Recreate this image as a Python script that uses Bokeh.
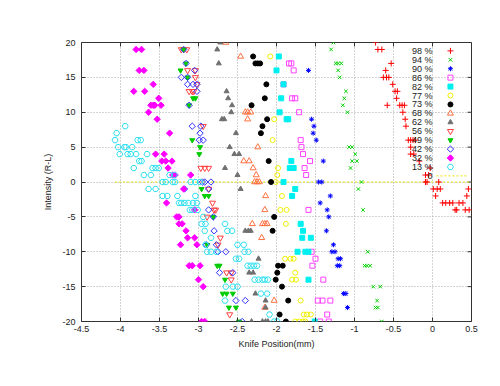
import math
from bokeh.plotting import figure
from bokeh.models import FixedTicker, Range1d, PrintfTickFormatter
from bokeh.embed import file_html
from bokeh.resources import INLINE
from bokeh.core.properties import value

# ---------------- data ----------------
x_ticks = [-4.5, -4.0, -3.5, -3.0, -2.5, -2.0, -1.5, -1.0, -0.5, 0.0, 0.5]
y_ticks = [-20, -15, -10, -5, 0, 5, 10, 15, 20]

s98_y = [20, 19, 19, 17, 16, 15, 15, 15, 14, 13, 13, 12, 11, 11, 11, 11, 10, 9, 8, 6, 6, 6, 6, 5, 4, 4, 3, 2, 1, 1,
         0, 0, 0, -1, -1, -1, -1, -2, -2, -3, -3, -3, -3, -3, -3, -4, -4, -4, -4]
s98_x = [-0.73, -0.70, -0.65, -0.53, -0.60, -0.63, -0.59, -0.56, -0.51, -0.48, -0.45, -0.46, -0.58, -0.42, -0.39,
         -0.36, -0.38, -0.35, -0.34, -0.31, -0.28, -0.25, -0.22, -0.28, -0.28, -0.24, -0.17, -0.03, -0.09, -0.05,
         -0.09, -0.07, 0.08, 0.01, 0.06, 0.10, 0.46, 0.04, 0.44, 0.13, 0.17, 0.22, 0.26, 0.34, 0.39, 0.29, 0.31,
         0.42, 0.47]

s94_y = [20, 19, 17, 17, 17, 16, 15, 13, 12, 11, 10, 5, 5, 4, 3, 3, 2, 0, -1, -4, -10, -12, -12, -12, -15, -15,
         -17, -18, -18, -20]
s94_x = [-1.27, -1.30, -1.24, -1.21, -1.17, -1.21, -1.19, -1.11, -1.13, -1.15, -1.09, -1.07, -1.03, -0.99, -1.03,
         -0.97, -1.05, -0.91, -0.95, -0.89, -0.83, -0.87, -0.84, -0.80, -0.76, -0.67, -0.71, -0.73, -0.70, -0.65]

s90_y = [16, 9, 8, 7, 6, 3, 0, 0, -2, -3, -4, -5, -7, -9, -10, -10, -11, -11, -12, -12, -16, -16, -18]
s90_x = [-1.59, -1.55, -1.52, -1.53, -1.49, -1.40, -1.46, -1.42, -1.31, -1.44, -1.35, -1.33, -1.36, -1.27, -1.29,
         -1.25, -1.21, -1.18, -1.22, -1.19, -1.14, -1.11, -1.09]

s86_y = [17, 17, 16, 14, 12, 12, 10, 6, 5, 4, 3, 2, 1, -4, -10, -11, -12, -14, -17, -17, -17, -19, -20, -20]
s86_x = [-1.84, -1.81, -1.78, -1.91, -1.80, -1.76, -1.71, -1.69, -1.68, -1.66, -1.57, -1.64, -1.62, -1.59, -1.55,
         -1.50, -1.54, -1.40, -1.47, -1.41, -1.31, -1.35, -1.44, -1.33]

s82_y = [18, 16, 14, 12, 10, 9, 9, 3, 2, 2, 0, -1, -2, -6, -7, -8, -8, -10, -10, -10, -14, -20]
s82_x = [-1.97, -2.00, -1.91, -1.94, -1.96, -1.87, -1.85, -1.81, -1.83, -1.78, -1.91, -1.76, -1.80, -1.69, -1.66,
         -1.67, -1.56, -1.73, -1.63, -1.59, -1.59, -1.51]

s77_y = [18, 9, 6, 2, 1, 0, -2, -4, -4, -6, -11, -11, -11, -13, -14, -14, -17, -19, -19, -19, -20, -20, -20, -20]
s77_x = [-2.08, -2.03, -2.05, -1.98, -1.99, -2.01, -1.93, -1.95, -1.87, -1.88, -1.89, -1.82, -1.78, -1.76, -1.80,
         -1.75, -1.69, -1.65, -1.61, -1.56, -1.76, -1.71, -1.66, -1.63]

s73_y = [18, 17, 17, 17, 14, 12, 11, 9, 8, 7, 3, 0, -5, -7, -12, -12, -13, -14, -15, -17, -19, -20]
s73_x = [-2.30, -2.27, -2.24, -2.21, -2.13, -2.15, -2.32, -2.12, -2.18, -2.20, -2.10, -2.07, -2.03, -2.05, -1.98,
         -1.92, -1.99, -2.01, -1.93, -1.85, -1.96, -1.88]

s68_y = [20, 18, 10, 10, 10, 9, 5, 3, 3, 2, 1, 0, 0, 0, -2, -4, -6, -6, -6, -6, -8, -17, -18]
s68_x = [-2.65, -2.46, -2.40, -2.37, -2.33, -2.37, -2.24, -2.42, -2.35, -2.30, -2.26, -2.28, -2.25, -2.22, -2.14,
         -2.15, -2.31, -2.18, -2.15, -2.12, -2.19, -2.03, -2.15]

s62_y = [20, 19, 17, 13, 12, 11, 10, 9, 9, 7, 5, 4, 4, 2, 1, -1, -7, -7, -7, -11, -13, -13, -16, -17, -18, -20,
         -20, -20, -20]
s62_x = [-2.72, -2.76, -2.74, -2.64, -2.62, -2.57, -2.58, -2.70, -2.67, -2.52, -2.60, -2.54, -2.48, -2.66, -2.50,
         -2.46, -2.40, -2.36, -2.33, -2.23, -2.35, -2.30, -2.27, -2.14, -2.14, -2.32, -2.18, -2.14, -2.11]

s56_y = [19, 19, 19, 16, 16, 15, 14, 13, 13, 13, 8, 2, 2, 2, -1, -3, -4, -4, -5, -8, -9, -13, -13, -14, -19]
s56_x = [-3.22, -3.19, -3.15, -3.14, -3.04, -3.04, -3.02, -3.12, -3.08, -3.06, -2.94, -2.97, -2.92, -2.87, -2.87,
         -2.82, -2.80, -2.78, -2.89, -2.72, -2.75, -2.64, -2.58, -2.58, -2.60]

s49_y = [19, 17, 16, 15, 12, 12, 11, 6, 5, 4, -1, -2, -2, -5, -9, -12, -12, -14, -16, -16, -16, -18, -18, -20]
s49_x = [-3.19, -3.16, -3.23, -3.14, -3.07, -3.04, -3.12, -3.08, -2.98, -2.99, -2.96, -2.92, -2.87, -2.81, -2.89,
         -2.76, -2.73, -2.66, -2.69, -2.64, -2.56, -2.61, -2.52, -2.48]

s42_y = [19, 17, 16, 15, 15, 14, 14, 14, 13, 11, 8, 8, 7, 6, 6, 0, 0, 0, -1, -1, -4, -5, -7, -9, -9, -10, -10,
         -13, -13, -17, -17, -20]
s42_x = [-3.19, -3.16, -3.05, -3.22, -3.14, -3.14, -3.07, -3.02, -3.02, -3.12, -3.08, -2.97, -2.98, -2.99, -2.94,
         -2.95, -2.92, -2.84, -3.18, -2.87, -2.87, -2.81, -2.80, -2.90, -2.77, -2.75, -2.65, -2.73, -2.56, -2.52,
         -2.40, -2.44]

s32_y = [19, 19, 16, 16, 14, 13, 13, 12, 11, 11, 11, 11, 10, 9, 7, 4, 4, 3, 3, 3, 2, 1, 1, 1, -1, -3, -4, -5, -5,
         -6, -6, -7, -8, -8, -9, -9, -12, -12, -12, -14, -15, -20, -20]
s32_x = [-3.80, -3.73, -3.76, -3.70, -3.58, -3.83, -3.69, -3.51, -3.61, -3.58, -3.56, -3.48, -3.64, -3.53, -3.37,
         -3.55, -3.44, -3.47, -3.42, -3.34, -3.39, -3.33, -3.30, -3.10, -3.19, -3.41, -3.05, -3.28, -3.25, -3.25,
         -3.21, -3.16, -3.14, -3.05, -3.23, -3.02, -3.12, -3.08, -2.98, -3.00, -2.94, -2.96, -2.92]

s13_y = [8, 7, 6, 6, 6, 5, 5, 5, 5, 4, 4, 4, 4, 4, 3, 3, 2, 2, 2, 2, 1, 1, 1, 1,
         0, 0, 0, 0, 0, 0, 0, -1, -1, -2, -2, -2, -2, -3, -3, -3, -3, -3, -3, -4, -4, -4, -5,
         -6, -6, -6, -7, -7, -7, -8, -9, -9, -9, -10, -10, -10, -10, -10, -11, -11,
         -12, -12, -12, -12, -14, -14, -14, -14, -14, -15, -15, -15, -16, -16, -17, -19, -20, -20]
s13_x = [-3.94, -4.05, -4.07, -3.78, -3.74, -4.03, -3.95, -3.93, -3.85, -4.01, -3.91, -3.87, -3.80, -3.66,
         -3.76, -3.73, -3.83, -3.59, -3.55, -3.51, -3.70, -3.61, -3.37, -3.31,
         -3.46, -3.42, -3.33, -3.30, -3.10, -3.04, -2.98, -3.64, -3.55, -3.46, -3.40, -3.27, -3.04,
         -3.25, -3.22, -3.18, -3.13, -3.07, -3.02, -3.11, -3.08, -3.01, -2.94,
         -2.96, -2.91, -2.66, -2.92, -2.63, -2.57, -2.84, -2.91, -2.50, -2.42, -2.89, -2.84, -2.77, -2.41, -2.36,
         -2.52, -2.48, -2.37, -2.33, -2.29, -2.25, -2.28, -2.23, -2.18, -2.15, -2.11, -2.65, -2.56, -2.50,
         -2.20, -2.12, -2.66, -2.09, -2.03, -1.99]

zero_x = [-4.07, 0.5]
zero_y = [0, 0]

labels = ["98 %", "94 %", "90 %", "86 %", "82 %", "77 %", "73 %", "68 %", "62 %", "56 %", "49 %", "42 %",
          "32 %", "13 %"]
zero_label = "0"

# ---------------- styles ----------------
R45 = math.pi / 4
styles = [
    (s98_x, s98_y, "cross", "#ff0000", None, 6, 0),
    (s94_x, s94_y, "x", "#00d000", None, 5, 0),
    (s90_x, s90_y, "asterisk", "#0000ff", None, 5, 0),
    (s86_x, s86_y, "square", "#ff40ff", None, 5, 0),
    (s82_x, s82_y, "square", "#00f0f0", "#00f0f0", 5, 0),
    (s77_x, s77_y, "circle", "#f0f000", None, 5, 0),
    (s73_x, s73_y, "circle", "#000000", "#000000", 5, 0),
    (s68_x, s68_y, "triangle", "#ff7040", None, 6, 0),
    (s62_x, s62_y, "triangle", "#707070", "#707070", 5, 0),
    (s56_x, s56_y, "inverted_triangle", "#ff4040", None, 6, 0),
    (s49_x, s49_y, "inverted_triangle", "#00cc00", "#00cc00", 5, 0),
    (s42_x, s42_y, "square", "#3030ff", None, 4.5, R45),
    (s32_x, s32_y, "square", "#ff00ff", "#ff00ff", 4.5, R45),
    (s13_x, s13_y, "hex", "#30e0f0", None, 6, 0),
]

FONT = "Liberation Sans"
TXT = "#222222"
TICK = "#333333"

p = figure(frame_width=390, frame_height=279,
           x_range=Range1d(-4.5, 0.5), y_range=Range1d(-20, 20),
           min_border_left=81, min_border_top=42, min_border_right=14, min_border_bottom=46,
           output_backend="svg", toolbar_location=None)
p.background_fill_color = "white"
p.border_fill_color = "white"
p.outline_line_color = TICK
p.outline_line_width = 1

for ax, ticks in ((p.xaxis, x_ticks), (p.yaxis, y_ticks)):
    ax.ticker = FixedTicker(ticks=ticks)
    ax.formatter = PrintfTickFormatter(format="%g")
    ax.axis_line_color = None
    ax.major_tick_in = 4
    ax.major_tick_out = 0
    ax.major_tick_line_color = TICK
    ax.minor_tick_line_color = None
    ax.major_label_text_font = FONT
    ax.major_label_text_font_size = "9px"
    ax.major_label_text_color = TXT
    ax.axis_label_text_font = FONT
    ax.axis_label_text_font_size = "9px"
    ax.axis_label_text_font_style = "normal"
    ax.axis_label_text_color = TXT

p.xaxis.axis_label = "Knife Position(mm)"
p.yaxis.axis_label = "Intensity (R-L)"
p.xaxis.major_label_standoff = 4
p.yaxis.major_label_standoff = 6
p.xaxis.axis_label_standoff = 4
p.yaxis.axis_label_standoff = 6

for g in (p.xgrid, p.ygrid):
    g.grid_line_color = "#a8a8a8"
    g.grid_line_dash = "1 2"
    g.grid_line_width = 1
p.xgrid.ticker = FixedTicker(ticks=x_ticks)
p.ygrid.ticker = FixedTicker(ticks=y_ticks)

# mirrored inward ticks on the top and right border (gnuplot style)
tick_len_y = 4 * 40.0 / 279
tick_len_x = 4 * 5.0 / 390
p.segment(x0=x_ticks, x1=x_ticks, y0=[20] * len(x_ticks), y1=[20 - tick_len_y] * len(x_ticks),
          line_color=TICK, line_width=1)
p.segment(x0=[0.5] * len(y_ticks), x1=[0.5 - tick_len_x] * len(y_ticks), y0=y_ticks, y1=y_ticks,
          line_color=TICK, line_width=1)

# zero line
p.line(zero_x, zero_y, line_color="#e8e800", line_dash="2 2", line_width=1)

for xs, ys, mk, col, fill, sz, ang in styles:
    p.scatter(xs, ys, marker=mk, size=sz, angle=ang, line_color=col,
              fill_color=fill if fill else None, line_width=1)

# gnuplot-style key (text then sample), top-right inside the frame
key_text_x = 0.0
key_mark_x = 0.23
key_top = 18.8
key_step = 1.28
for i, (xs, ys, mk, col, fill, sz, ang) in enumerate(styles):
    yy = key_top - i * key_step
    p.text([key_text_x], [yy], text=[labels[i]], text_align="right", text_baseline="middle",
           text_font=value(FONT), text_font_size="9px", text_color=TXT)
    p.scatter([key_mark_x], [yy], marker=mk, size=sz, angle=ang, line_color=col,
              fill_color=fill if fill else None, line_width=1)
yy = key_top - len(styles) * key_step
p.text([key_text_x], [yy], text=[zero_label], text_align="right", text_baseline="middle",
       text_font=value(FONT), text_font_size="9px", text_color=TXT)
p.line([0.05, 0.46], [yy, yy], line_color="#e8e800", line_dash="2 2", line_width=1)

open("out.html", "w").write(file_html(p, INLINE))
